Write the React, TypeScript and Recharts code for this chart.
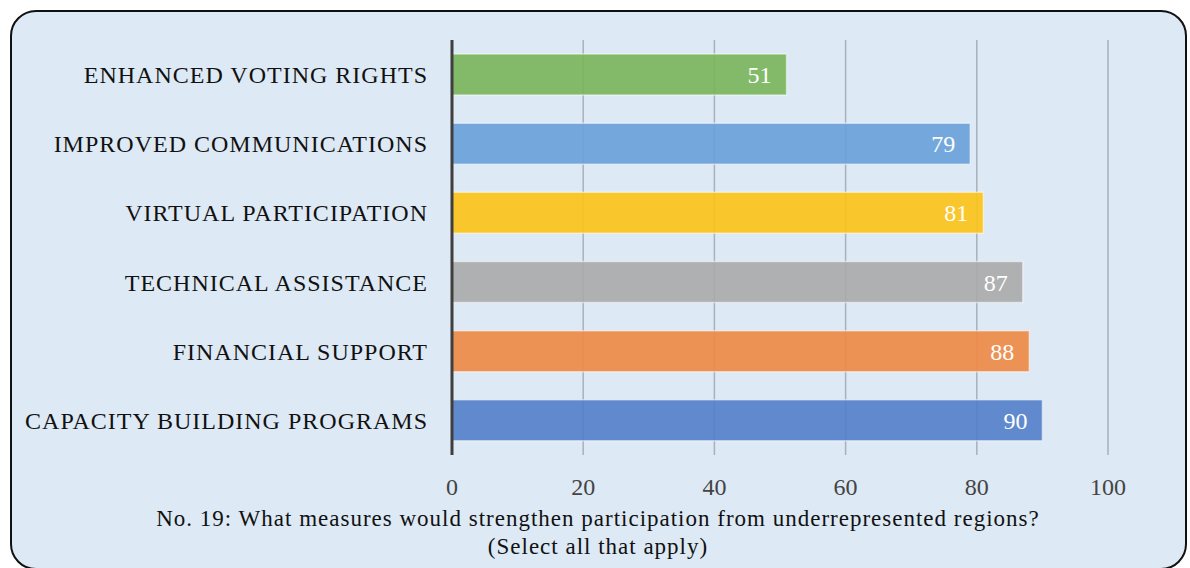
import { BarChart, Bar, XAxis, YAxis, CartesianGrid, Cell, LabelList } from 'recharts';

const measures = [
  'ENHANCED VOTING RIGHTS',
  'IMPROVED COMMUNICATIONS',
  'VIRTUAL PARTICIPATION',
  'TECHNICAL ASSISTANCE',
  'FINANCIAL SUPPORT',
  'CAPACITY BUILDING PROGRAMS',
];
const responses = [51, 79, 81, 87, 88, 90];
const barColors = ['#7ab55c', '#6aa2da', '#fbc31a', '#aaaaaa', '#ee8a47', '#5580ca'];
const xTicks = [0, 20, 40, 60, 80, 100];

const titleLines = [
  'No. 19: What measures would strengthen participation from underrepresented regions?',
  '(Select all that apply)',
];

const rows = measures.map((name, i) => ({ name, value: responses[i] }));

const FONT = '"Liberation Serif", "Times New Roman", serif';

export default function App() {
  return (
    <div style={{ position: 'absolute', left: 0, top: 0, width: 1190, height: 568, overflow: 'hidden', background: '#ffffff' }}>
      <div
        style={{
          position: 'absolute',
          left: 10,
          top: 10,
          width: 1177,
          height: 560,
          border: '2px solid #111',
          borderRadius: 26,
          background: '#dde9f5',
          boxSizing: 'border-box',
        }}
      />
      <div style={{ position: 'absolute', left: 0, top: 0 }}>
        <BarChart
          width={1190}
          height={568}
          data={rows}
          layout="vertical"
          margin={{ top: 40, right: 82, left: 0, bottom: 0 }}
          barSize={41}
        >
          <CartesianGrid horizontal={false} stroke="#a9b1b9" strokeWidth={1.5} />
          <XAxis
            type="number"
            domain={[0, 100]}
            ticks={xTicks}
            height={113}
            axisLine={false}
            tickLine={false}
            tick={{ fill: '#444', fontSize: 24, fontFamily: FONT }}
            dy={15}
          />
          <YAxis
            type="category"
            dataKey="name"
            width={452}
            axisLine={{ stroke: '#3f3f3f', strokeWidth: 3 }}
            tickLine={false}
            tick={{ fill: '#111', fontSize: 24, fontFamily: FONT, letterSpacing: 1 }}
            tickMargin={18}
          />
          <Bar dataKey="value" isAnimationActive={false} stroke="#ffffff" strokeOpacity={0.5} strokeWidth={1.5} fillOpacity={0.92}>
            {rows.map((r, i) => (
              <Cell key={r.name} fill={barColors[i]} />
            ))}
            <LabelList
              dataKey="value"
              position="insideRight"
              offset={15}
              fill="#ffffff"
              style={{ fontSize: 24, fontFamily: FONT }}
            />
          </Bar>
        </BarChart>
      </div>
      {titleLines.map((line, i) => (
        <div
          key={line}
          style={{
            position: 'absolute',
            left: 0,
            width: 1196,
            top: 505 + i * 28,
            textAlign: 'center',
            fontFamily: FONT,
            fontSize: 23,
            letterSpacing: 1,
            color: '#111',
            lineHeight: '28px',
          }}
        >
          {line}
        </div>
      ))}
    </div>
  );
}
